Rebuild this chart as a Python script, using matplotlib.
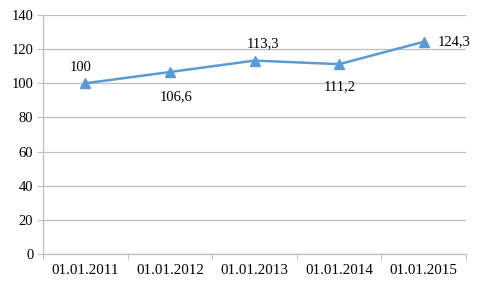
import numpy as np
import matplotlib.pyplot as plt
from matplotlib.ticker import FixedLocator

plt.rcParams['font.family'] = ['Liberation Serif', 'DejaVu Serif']

dates = ['01.01.2011', '01.01.2012', '01.01.2013', '01.01.2014', '01.01.2015']
values = [100, 106.6, 113.3, 111.2, 124.3]
labels = ['100', '106,6', '113,3', '111,2', '124,3']
# label offsets in pixels (dx, dy) relative to the point
offsets = [(-5, 16), (6, -25), (9, 17), (1, -23), (14, 0)]
aligns = ['center', 'center', 'center', 'center', 'left']

fig = plt.figure(figsize=(4.81, 2.88), dpi=100)
ax = fig.add_axes([43/481, 1-254/288, (466-43)/481, (254-15)/288])

color = '#5B9BD5'
gridc = '#BFBFBF'
x = np.arange(len(dates))
ax.plot(x, values, color=color, lw=1.8, marker='^', ms=7, zorder=3)

for xi, v, lab, off, ha in zip(x, values, labels, offsets, aligns):
    ax.annotate(lab, (xi, v), xytext=off, textcoords='offset pixels',
                ha=ha, va='center', fontsize=10.5, color='black')

ax.set_xlim(-0.5, len(dates) - 0.5)
ax.set_ylim(0, 140)
ax.set_yticks(range(0, 141, 20))
ax.set_xticks(x)
ax.set_xticklabels(dates)
ax.xaxis.set_minor_locator(FixedLocator(np.arange(-0.5, len(dates), 1.0)))
ax.tick_params(axis='x', which='major', length=0, pad=7, labelsize=10.8)
ax.tick_params(axis='x', which='minor', length=4, color=gridc)
ax.tick_params(axis='y', length=4, color=gridc, labelsize=10.5, pad=3)

ax.grid(axis='y', color=gridc, lw=0.9)
ax.set_axisbelow(True)
for s in ['top', 'right']:
    ax.spines[s].set_visible(False)
for s in ['left', 'bottom']:
    ax.spines[s].set_color(gridc)
    ax.spines[s].set_linewidth(0.9)

fig.savefig('out.png', dpi=100, facecolor='white')
